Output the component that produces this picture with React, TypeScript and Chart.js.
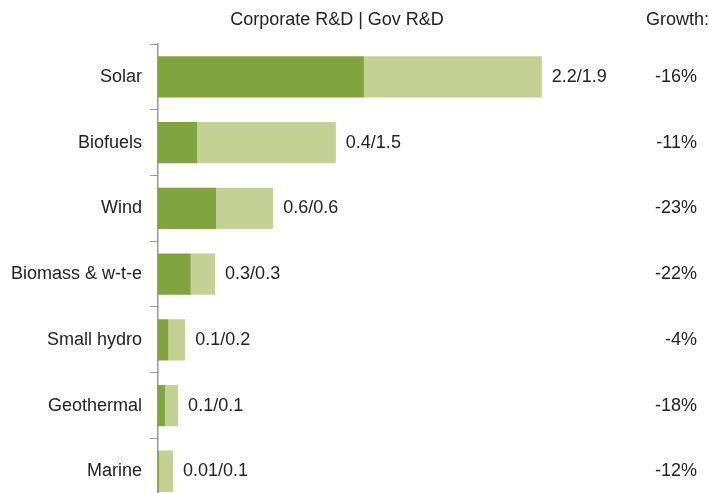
import React, { useEffect, useRef } from "react";
import { Chart, registerables } from "chart.js";

Chart.register(...registerables);

const categories = ["Solar", "Biofuels", "Wind", "Biomass & w-t-e", "Small hydro", "Geothermal", "Marine"];
const corporateRD = [2.2, 0.42, 0.62, 0.35, 0.11, 0.075, 0.01];
const govRD = [1.9, 1.48, 0.61, 0.26, 0.18, 0.14, 0.15];
const valueLabels = ["2.2/1.9", "0.4/1.5", "0.6/0.6", "0.3/0.3", "0.1/0.2", "0.1/0.1", "0.01/0.1"];
const growthLabels = ["-16%", "-11%", "-23%", "-22%", "-4%", "-18%", "-12%"];
const headerTitle = "Corporate R&D | Gov R&D";
const growthTitle = "Growth:";

const FONT = "Liberation Sans, Arial, sans-serif";

export default function App() {
  const ref = useRef<HTMLCanvasElement>(null);
  useEffect(() => {
    if (!ref.current) return;
    const textPlugin = {
      id: "textPlugin",
      afterDatasetsDraw(chart: any) {
        const ctx = chart.ctx;
        const y = chart.scales.y;
        const x = chart.scales.x;
        ctx.save();
        ctx.font = `18px ${FONT}`;
        ctx.fillStyle = "#222";
        ctx.textBaseline = "middle";
        categories.forEach((_, i) => {
          const yc = y.getPixelForValue(i);
          const end = x.getPixelForValue(corporateRD[i] + govRD[i]);
          ctx.textAlign = "left";
          ctx.fillText(valueLabels[i], end + 10, yc);
          ctx.textAlign = "right";
          ctx.fillText(growthLabels[i], 697, yc);
        });
        ctx.textAlign = "center";
        ctx.fillText(headerTitle, 337, 20);
        ctx.textAlign = "right";
        ctx.fillText(growthTitle, 709, 20);
        ctx.restore();
      },
    };
    const chart = new Chart(ref.current, {
      type: "bar",
      data: {
        labels: categories,
        datasets: [
          {
            label: "Corporate R&D",
            data: corporateRD,
            backgroundColor: "#80a440",
            borderWidth: 0,
          },
          {
            label: "Gov R&D",
            data: govRD,
            backgroundColor: "#c3d194",
            borderWidth: 0,
          },
        ],
      },
      options: {
        indexAxis: "y",
        responsive: true,
        maintainAspectRatio: false,
        animation: false,
        devicePixelRatio: 1,
        layout: { padding: { top: 44, right: 83, bottom: 0, left: 0 } },
        datasets: { bar: { categoryPercentage: 1, barPercentage: 0.63 } },
        plugins: { legend: { display: false }, tooltip: { enabled: false }, title: { display: false } },
        scales: {
          x: { display: false, stacked: true, min: 0, max: 5 },
          y: {
            stacked: true,
            afterFit: (s: any) => {
              s.width = 158;
            },
            grid: {
              drawOnChartArea: false,
              offset: true,
              tickLength: 8,
              color: "#9a9a88",
            },
            border: { display: true, color: "#9a9a88", width: 1.5 },
            ticks: { padding: 8, color: "#222", font: { family: FONT, size: 18 } },
          },
        },
      },
      plugins: [textPlugin],
    });
    return () => chart.destroy();
  }, []);
  return (
    <div style={{ position: "absolute", top: 0, left: 0, width: 709, height: 523, background: "#fff" }}>
      <canvas ref={ref} />
    </div>
  );
}
